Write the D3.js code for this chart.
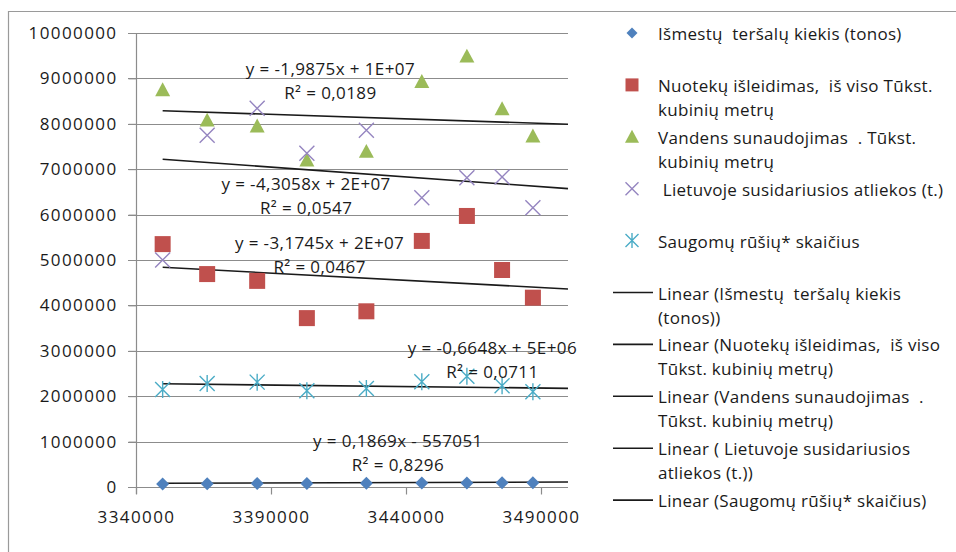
<!DOCTYPE html>
<html>
<head>
<meta charset="utf-8">
<script src="https://cdn.jsdelivr.net/npm/d3@7"></script>
<style>
  body { margin: 0; background: #fff; }
  text { font-family: "Open Sans", sans-serif; fill: #1a1a1a; white-space: pre; }
</style>
</head>
<body>
<div id="chart"></div>
<script>
// ------------------------------
// Data
// ------------------------------

// x = population of Lithuania
const xValues = [3349872, 3366357, 3384879, 3403284, 3425324, 3445857, 3462553, 3475586, 3487000];

const emissions = [66000, 71000, 79000, 77000, 81000, 90000, 88000, 94000, 93000];
const wastewater = [5350000, 4690000, 4540000, 3720000, 3870000, 5420000, 5970000, 4780000, 4170000];
const waterUse = [8750000, 8080000, 7950000, 7200000, 7390000, 8930000, 9490000, 8330000, 7730000];
const waste = [5000000, 7750000, 8340000, 7350000, 7860000, 6370000, 6810000, 6830000, 6150000];
const species = [2150000, 2280000, 2310000, 2120000, 2170000, 2320000, 2440000, 2230000, 2100000];

// trendlines: slopes from the equations, intercepts estimated from where the lines sit
const trendSlopes = [0.1869, -3.1745, -1.9875, -4.3058, -0.6648];
const trendIntercepts = [-545000, 15473000, 14946000, 21642000, 4500000];
const trendEquations = [
  "y = 0,1869x - 557051",
  "y = -3,1745x + 2E+07",
  "y = -1,9875x + 1E+07",
  "y = -4,3058x + 2E+07",
  "y = -0,6648x + 5E+06",
];
const trendR2 = ["R² = 0,8296", "R² = 0,0467", "R² = 0,0189", "R² = 0,0547", "R² = 0,0711"];
// label centres in data units [x, y of first line]
const labelAnchors = [
  [3437000, 1030000],
  [3408000, 5400000],
  [3412000, 9230000],
  [3403000, 6700000],
  [3472000, 3080000],
];

const xTicks = [3340000, 3390000, 3440000, 3490000];
const yTicks = d3.range(0, 10000001, 1000000);

const legendItems = [
  ["Išmestų  teršalų kiekis (tonos)"],
  ["Nuotekų išleidimas,  iš viso Tūkst.", "kubinių metrų"],
  ["Vandens sunaudojimas  . Tūkst.", "kubinių metrų"],
  [" Lietuvoje susidariusios atliekos (t.)"],
  ["Saugomų rūšių* skaičius"],
  ["Linear (Išmestų  teršalų kiekis", "(tonos))"],
  ["Linear (Nuotekų išleidimas,  iš viso", "Tūkst. kubinių metrų)"],
  ["Linear (Vandens sunaudojimas  .", "Tūkst. kubinių metrų)"],
  ["Linear ( Lietuvoje susidariusios", "atliekos (t.))"],
  ["Linear (Saugomų rūšių* skaičius)"],
];

const seriesList = [emissions, wastewater, waterUse, waste, species];
const markerTypes = ["diamond", "square", "triangle", "cross", "asterisk"];
const colors = ["#4f81bd", "#c0504d", "#9bbb59", "#9585c0", "#4bacc6"];

// ------------------------------
// Layout
// ------------------------------

const width = 956;
const height = 552;
const plot = { left: 136, right: 568, top: 33, bottom: 487 };

const svg = d3.select("#chart").append("svg").attr("width", width).attr("height", height);

// chart border (cut off at right and bottom)
svg.append("path")
  .attr("d", `M8.5,${height} V11.5 H${width}`)
  .attr("fill", "none")
  .attr("stroke", "#9a9a9a")
  .attr("stroke-width", 1.2);

const x = d3.scaleLinear().domain([3340000, 3500000]).range([plot.left, plot.right]);
const y = d3.scaleLinear().domain([0, 10000000]).range([plot.bottom, plot.top]);

// gridlines
svg.append("g")
  .selectAll("line")
  .data(yTicks)
  .join("line")
  .attr("x1", plot.left - 8)
  .attr("x2", plot.right)
  .attr("y1", (d) => Math.round(y(d)) + 0.5)
  .attr("y2", (d) => Math.round(y(d)) + 0.5)
  .attr("stroke", "#8c8c8c")
  .attr("stroke-width", 1.2);

// y axis
const yAxis = svg.append("g")
  .attr("transform", `translate(${plot.left + 0.5},0)`)
  .call(d3.axisLeft(y).tickValues(yTicks).tickSize(8).tickPadding(11).tickFormat(d3.format("d")));
yAxis.select(".domain").attr("stroke", "#8c8c8c").attr("stroke-width", 1.2).attr("d", `M0,${plot.top}V${plot.bottom + 7}`);
yAxis.selectAll(".tick line").attr("stroke", "#8c8c8c");
yAxis.selectAll(".tick text")
  .attr("font-family", "Open Sans")
  .attr("font-size", 17)
  .attr("letter-spacing", 1.4)
  .attr("fill", "#1a1a1a");

// x axis
const xAxis = svg.append("g")
  .attr("transform", `translate(0,${plot.bottom + 0.5})`)
  .call(d3.axisBottom(x).tickValues(xTicks).tickSize(7).tickPadding(16).tickFormat(d3.format("d")));
xAxis.select(".domain").remove();
xAxis.selectAll(".tick line").attr("stroke", "#8c8c8c").attr("stroke-width", 1.2);
xAxis.selectAll(".tick text")
  .attr("font-family", "Open Sans")
  .attr("font-size", 17)
  .attr("letter-spacing", 1.4)
  .attr("fill", "#1a1a1a");

// ------------------------------
// Trendlines (forecast forward to the end of the axis)
// ------------------------------

const xStart = d3.min(xValues);
const xEnd = 3500000;

trendSlopes.forEach((b, i) => {
  const a = trendIntercepts[i];
  svg.append("line")
    .attr("x1", x(xStart))
    .attr("x2", x(xEnd))
    .attr("y1", y(a + b * xStart))
    .attr("y2", y(a + b * xEnd))
    .attr("stroke", "#1a1a1a")
    .attr("stroke-width", 1.6);
});

// ------------------------------
// Markers
// ------------------------------

function markerPath(type, s) {
  const r = s / 2;
  switch (type) {
    case "diamond":
      return `M0,${-r}L${r},0L0,${r}L${-r},0Z`;
    case "square":
      return `M${-r},${-r}H${r}V${r}H${-r}Z`;
    case "triangle":
      return `M0,${-r}L${r},${r * 0.85}L${-r},${r * 0.85}Z`;
    case "cross":
      return `M${-r},${-r}L${r},${r}M${-r},${r}L${r},${-r}`;
    case "asterisk":
      return `M${-r},${-r}L${r},${r}M${-r},${r}L${r},${-r}M0,${-r - 1}V${r + 1}`;
  }
}
const markerSizes = [13, 16, 15, 15, 15];

function drawMarker(g, type, color, s) {
  const filled = type !== "cross" && type !== "asterisk";
  g.append("path")
    .attr("d", markerPath(type, s))
    .attr("fill", filled ? color : "none")
    .attr("stroke", filled ? "none" : color)
    .attr("stroke-width", 1.4);
}

seriesList.forEach((vals, i) => {
  svg.append("g")
    .selectAll("g")
    .data(vals)
    .join("g")
    .attr("transform", (d, j) => `translate(${x(xValues[j])},${y(d)})`)
    .each(function () {
      drawMarker(d3.select(this), markerTypes[i], colors[i], markerSizes[i]);
    });
});

// ------------------------------
// Trendline labels
// ------------------------------

labelAnchors.forEach((p, i) => {
  const t = svg.append("text")
    .attr("x", x(p[0]))
    .attr("y", y(p[1]))
    .attr("text-anchor", "middle")
    .attr("font-size", 17)
    .attr("letter-spacing", 0.4)
    .attr("dominant-baseline", "central");
  t.append("tspan").attr("x", x(p[0])).text(trendEquations[i]);
  t.append("tspan").attr("x", x(p[0])).attr("dy", 24).text(trendR2[i]);
});

// ------------------------------
// Legend
// ------------------------------

const legend = svg.append("g");
legendItems.forEach((lines, i) => {
  const cy = 33 + i * 51.9;
  const g = legend.append("g").attr("transform", `translate(0,${cy})`);
  if (i < 5) {
    const mg = g.append("g").attr("transform", "translate(632,0)");
    drawMarker(mg, markerTypes[i], colors[i], [11, 13, 14, 13, 13][i]);
  } else {
    g.append("line")
      .attr("x1", 613).attr("x2", 653)
      .attr("y1", 0).attr("y2", 0)
      .attr("stroke", "#1a1a1a")
      .attr("stroke-width", 1.6);
  }
  const t = g.append("text")
    .attr("x", 658)
    .attr("y", 0)
    .attr("font-size", 17)
    .attr("letter-spacing", 0.3)
    .attr("dominant-baseline", "central");
  lines.forEach((line, k) => {
    t.append("tspan").attr("x", 658).attr("dy", k === 0 ? 0 : 24).text(line);
  });
});
</script>
</body>
</html>
